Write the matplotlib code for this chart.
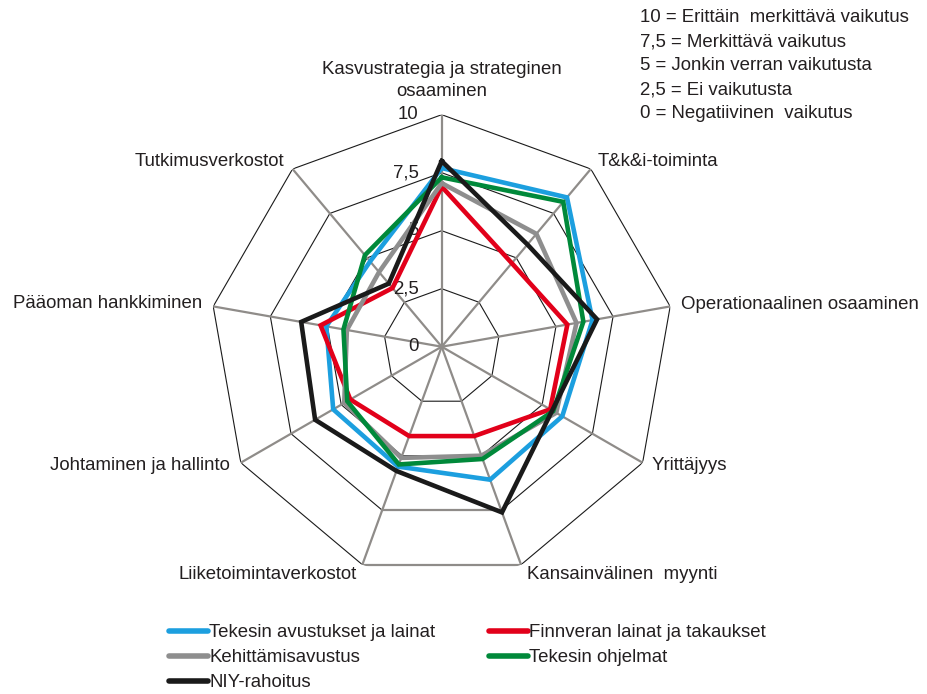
import numpy as np
import matplotlib
matplotlib.use("Agg")
import matplotlib.pyplot as plt
from matplotlib.lines import Line2D

plt.rcParams['font.family'] = ['Liberation Sans', 'DejaVu Sans']

categories = [
    "Kasvustrategia ja strateginen\nosaaminen",
    "T&k&i-toiminta",
    "Operationaalinen osaaminen",
    "Yrittäjyys",
    "Kansainvälinen  myynti",
    "Liiketoimintaverkostot",
    "Johtaminen ja hallinto",
    "Pääoman hankkiminen",
    "Tutkimusverkostot",
]
ring_values = [2.5, 5, 7.5, 10]
tick_values = [10, 7.5, 5, 2.5, 0]
tick_labels = ["10", "7,5", "5", "2,5", "0"]

series_names = [
    "Tekesin avustukset ja lainat",
    "Finnveran lainat ja takaukset",
    "Kehittämisavustus",
    "Tekesin ohjelmat",
    "NIY-rahoitus",
]
tekes_avustukset = [7.7, 8.4, 6.6, 6.0, 6.1, 5.5, 5.4, 5.05, 4.8]
finnvera = [6.9, 4.7, 5.5, 5.4, 4.1, 4.1, 4.55, 5.3, 3.3]
kehittamisavustus = [7.05, 6.35, 5.9, 5.7, 5.0, 5.1, 4.85, 4.15, 4.2]
tekes_ohjelmat = [7.3, 8.15, 6.2, 5.55, 5.15, 5.4, 4.7, 4.3, 5.15]
niy = [8.0, 5.75, 6.8, 5.5, 7.6, 5.7, 6.3, 6.15, 3.55]
series_values = [tekes_avustukset, finnvera, kehittamisavustus, tekes_ohjelmat, niy]
series_colors = ["#1c9fdf", "#e2001a", "#8e8e8e", "#00893a", "#1a1a1a"]

scale_text = [
    "10 = Erittäin  merkittävä vaikutus",
    "7,5 = Merkittävä vaikutus",
    "5 = Jonkin verran vaikutusta",
    "2,5 = Ei vaikutusta",
    "0 = Negatiivinen  vaikutus",
]

TXT = "#231f20"
FS = 13.4
W, H = 927, 694
fig = plt.figure(figsize=(W / 100, H / 100), dpi=100)
cx, cy, R = 441.7, 346.7, 232.0
ax = fig.add_axes([(cx - R) / W, (H - cy - R) / H, 2 * R / W, 2 * R / H], projection="polar")
ax.set_theta_zero_location("N")
ax.set_theta_direction(-1)
ax.set_ylim(0, 10)
ax.axis("off")

n = len(categories)
theta = np.arange(n) * 2 * np.pi / n
theta_c = np.append(theta, theta[0])

# rings
for lv in ring_values:
    ax.plot(theta_c, [lv] * (n + 1), color="#1a1a1a", lw=0.8, zorder=1)
for lv in ring_values[2:]:
    ax.plot(theta[4:6], [lv, lv], color="#8f8c89", lw=1.6, zorder=1.1)
# spokes
for th in theta:
    ax.plot([th, th], [0, 10], color="#8f8c89", lw=1.6, zorder=1.2, solid_capstyle="butt")

# tick labels
for v, lab in zip(tick_values, tick_labels):
    ax.annotate(lab, xy=(0, v), xytext=(-16.5, 0), textcoords="offset points",
                ha="right", va="center", fontsize=FS, color=TXT, zorder=1.5)

# category labels (offsets in px)
offsets = [(0, 0), (7, 7), (11, 2), (9, -3), (6, -10), (-6, -10), (-11, -3), (-11, 3), (-8, 7)]
for i, (cat, (dx, dy)) in enumerate(zip(categories, offsets)):
    if i == 0:
        lines = cat.split("\n")
        for k, ln in enumerate(lines):
            ax.annotate(ln, xy=(0, 10), xytext=(0, (45 - 22 * k) * 0.72), textcoords="offset points",
                        ha="center", va="center", fontsize=FS, color=TXT)
        continue
    ha = "left" if dx > 0 else "right"
    ax.annotate(cat, xy=(theta[i], 10), xytext=(dx * 0.72, dy * 0.72), textcoords="offset points",
                ha=ha, va="center", fontsize=FS, color=TXT)

# data
for k, (vals, col) in enumerate(zip(series_values, series_colors)):
    ax.plot(theta_c, list(vals) + [vals[0]], color=col, lw=3.3, zorder=3 + k,
            solid_joinstyle="miter")

# scale explanation text
for k, t in enumerate(scale_text):
    fig.text(640 / W, 1 - (18 + 24 * k) / H, t, ha="left", va="center", fontsize=FS, color=TXT)

# legend
order = [0, 2, 4, 1, 3]
handles = [Line2D([0], [0], color=series_colors[i], lw=4, solid_capstyle="round") for i in order]
labels = [series_names[i] for i in order]
leg = fig.legend(handles, labels, ncol=2, loc="upper left", bbox_to_anchor=(169 / W, 1 - 624 / H),
                 frameon=False, fontsize=FS, handlelength=2.1, handletextpad=0.05,
                 columnspacing=2.9, labelspacing=0.44, borderpad=0, borderaxespad=0)
for t in leg.get_texts():
    t.set_color(TXT)

fig.savefig("out.png", dpi=100)
